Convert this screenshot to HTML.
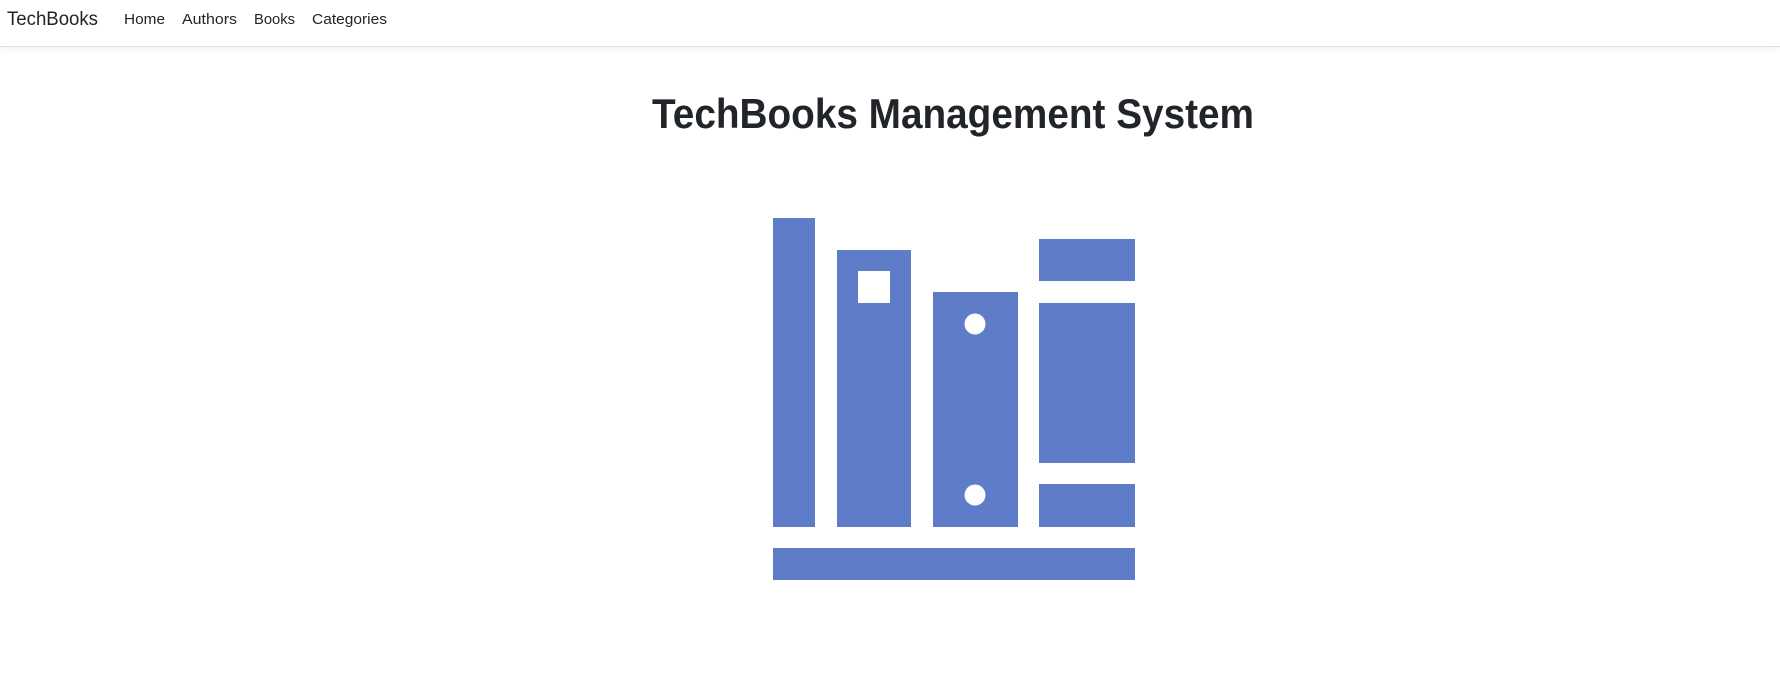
<!DOCTYPE html>
<html><head><meta charset="utf-8"><style>
html,body{margin:0;padding:0;background:#fff;width:1780px;height:691px;overflow:hidden}
.nav{position:absolute;left:0;top:0;width:1780px;height:46px;border-bottom:1px solid #dfe0e2;box-shadow:0 2px 8px rgba(0,0,0,0.06)}
svg{position:absolute;left:0;top:0}
</style></head><body>
<div class="nav"></div>
<svg width="1780" height="691" xmlns="http://www.w3.org/2000/svg" font-family="Liberation Sans, sans-serif">
<text x="7" y="25" font-size="19" fill="#212529" textLength="91" lengthAdjust="spacingAndGlyphs">TechBooks</text>
<text x="124" y="24" font-size="15" fill="#212529" textLength="41" lengthAdjust="spacingAndGlyphs">Home</text>
<text x="182" y="24" font-size="15" fill="#212529" textLength="55" lengthAdjust="spacingAndGlyphs">Authors</text>
<text x="254" y="24" font-size="15" fill="#212529" textLength="41" lengthAdjust="spacingAndGlyphs">Books</text>
<text x="312" y="24" font-size="15" fill="#212529" textLength="75" lengthAdjust="spacingAndGlyphs">Categories</text>
<text x="652" y="128" font-size="42" font-weight="bold" fill="#212529" textLength="602" lengthAdjust="spacingAndGlyphs">TechBooks Management System</text>
<g fill="#5f7cc8">
<rect x="773" y="218" width="42" height="309"/>
<rect x="837" y="250" width="74" height="277"/>
<rect x="933" y="292" width="85" height="235"/>
<rect x="1039" y="239" width="96" height="42"/>
<rect x="1039" y="303" width="96" height="160"/>
<rect x="1039" y="484" width="96" height="43"/>
<rect x="773" y="548" width="362" height="32"/>
</g>
<rect x="858" y="271" width="32" height="32" fill="#fff"/>
<circle cx="975" cy="324" r="10.5" fill="#fff"/>
<circle cx="975" cy="495" r="10.5" fill="#fff"/>
</svg>
</body></html>
